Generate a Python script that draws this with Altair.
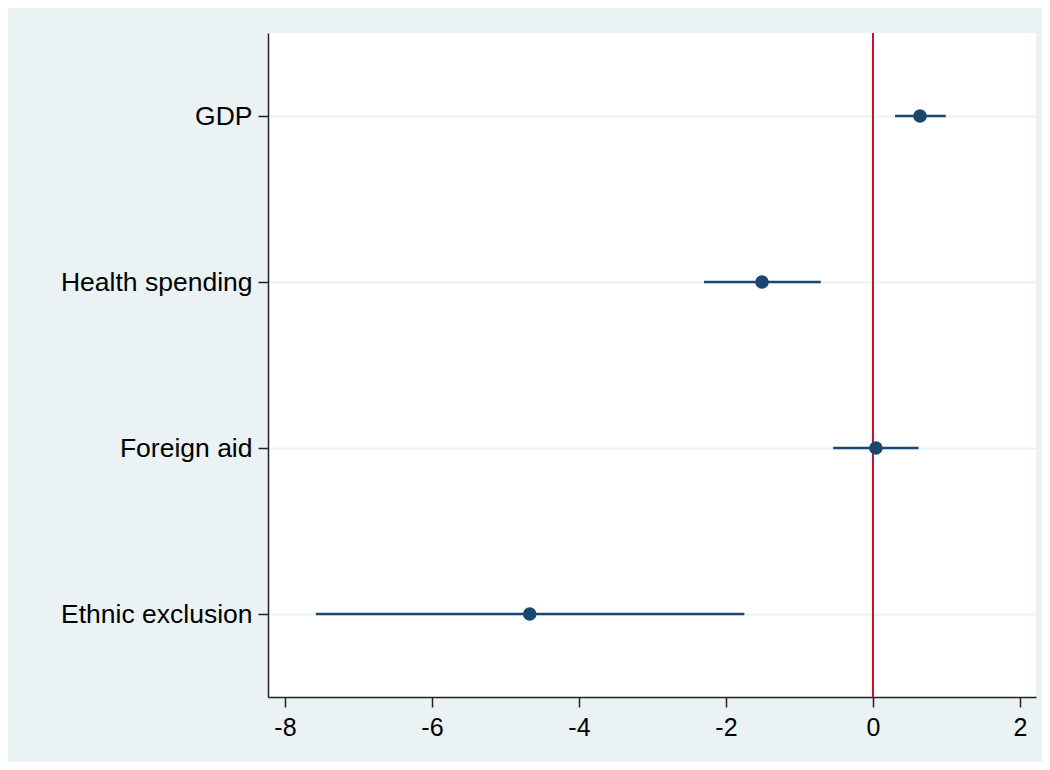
import altair as alt
import pandas as pd

variables = ["GDP", "Health spending", "Foreign aid", "Ethnic exclusion"]
positions = [4, 3, 2, 1]
estimates = [0.64, -1.51, 0.04, -4.67]
ci_low = [0.30, -2.30, -0.54, -7.58]
ci_high = [0.99, -0.71, 0.62, -1.75]
x_ticks = [-8, -6, -4, -2, 0, 2]
ref_value = [0]

df = pd.DataFrame({
    "variable": variables,
    "pos": positions,
    "est": estimates,
    "lo": ci_low,
    "hi": ci_high,
})

label_expr = " : ".join(
    f"datum.value == {p} ? '{v}'" for p, v in zip(positions, variables)
) + " : ''"

NAVY = "#1a476f"
RED = "#c8102e"
BG = "#eaf2f3"

xscale = alt.Scale(domain=[-8.231, 2.218], nice=False, zero=False)
yscale = alt.Scale(domain=[0.5, 4.5], nice=False, zero=False)

x_axis = alt.Axis(
    values=x_ticks, title=None, grid=False, labelFontSize=25,
    labelExpr="datum.value < 0 ? '-' + abs(datum.value) : '' + datum.value",
    labelFont="Liberation Sans", labelColor="black", labelPadding=8,
    tickSize=10, tickWidth=1.5, tickColor="#222", domainColor="#222",
    domainWidth=1.5,
)
y_axis = alt.Axis(
    values=positions, title=None, grid=True, gridColor=BG, gridWidth=2,
    labelExpr=label_expr, labelFontSize=26.5, labelFont="Liberation Sans",
    labelLimit=400, labelColor="black", labelPadding=6, tickSize=10,
    tickWidth=1.5, tickColor="#222", domainColor="#222", domainWidth=1.5,
)

base = alt.Chart(df)

ci = base.mark_rule(color=NAVY, strokeWidth=2.5).encode(
    x=alt.X("lo:Q", scale=xscale, axis=x_axis),
    x2="hi:Q",
    y=alt.Y("pos:Q", scale=yscale, axis=y_axis),
)

ref = alt.Chart(pd.DataFrame({"ref": ref_value})).mark_rule(
    color=RED, strokeWidth=2
).encode(x=alt.X("ref:Q", scale=xscale))

pts = base.mark_point(filled=True, shape="circle", size=185, color=NAVY, opacity=1).encode(
    x=alt.X("est:Q", scale=xscale),
    y=alt.Y("pos:Q", scale=yscale),
)

chart = alt.layer(ci, ref, pts).properties(
    width=768,
    height=664,
    background=BG,
    padding={"left": 260, "top": 25, "right": 6, "bottom": 65},
    autosize=alt.AutoSizeParams(type="none"),
).configure_view(fill="white", stroke=None)

chart.save("out.html", embed_options={"renderer": "svg", "actions": False})
